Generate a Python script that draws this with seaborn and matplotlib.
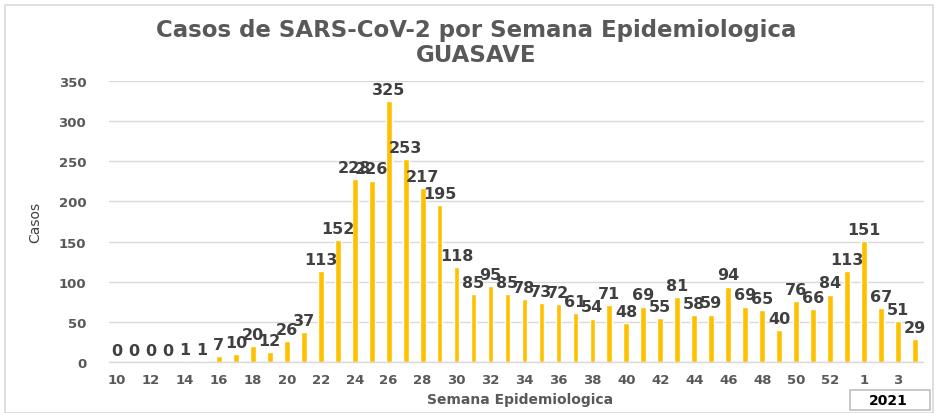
import matplotlib
matplotlib.use("Agg")
import matplotlib.pyplot as plt
import seaborn as sns
import pandas as pd
from matplotlib.patches import Rectangle

# Epidemiological weeks 10-53 (2020) followed by weeks 1-4 (2021)
semanas = [str(w) for w in range(10, 54)] + ["1", "2", "3", "4"]
casos = [0, 0, 0, 0, 1, 1, 7, 10, 20, 12, 26, 37,
         113, 152, 228, 226, 325, 253, 217, 195,
         118, 85, 95, 85, 78, 73, 72, 61, 54, 71,
         48, 69, 55, 81, 58, 59, 94, 69, 65, 40,
         76, 66, 84, 113, 151, 67, 51, 29]
y_ticks = [0, 50, 100, 150, 200, 250, 300, 350]

sns.set_style("white")
plt.rcParams["font.family"] = ["DejaVu Sans"]

df = pd.DataFrame({"semana": semanas, "casos": casos})

fig = plt.figure(figsize=(9.38, 4.14), dpi=100)
ax = fig.add_axes([108.5 / 938, 1 - 363 / 414, (923.5 - 108.5) / 938, (363 - 82) / 414])

sns.barplot(data=df, x="semana", y="casos", color="#FFC000", saturation=1,
            width=0.34, ax=ax, order=semanas)

ax.set_xlim(-0.5, len(semanas) - 0.5)
ax.set_ylim(0, 350)
ax.set_yticks(y_ticks)
ax.set_yticklabels([str(t) for t in y_ticks], fontsize=9.5, fontweight="bold", color="#595959")
ax.set_xticks(range(0, len(semanas), 2))
ax.set_xticklabels(semanas[::2], fontsize=9.5, fontweight="bold", color="#595959")
ax.tick_params(axis="both", length=0)
ax.tick_params(axis="y", pad=16)
ax.tick_params(axis="x", pad=8)

ax.grid(axis="y", color="#D9D9D9", linewidth=1)
ax.set_axisbelow(True)
for side in ["top", "right", "left"]:
    ax.spines[side].set_visible(False)
ax.spines["bottom"].set_color("#D9D9D9")
ax.spines["bottom"].set_linewidth(1)

# value labels above each bar
for i, v in enumerate(casos):
    ax.annotate(str(v), (i, v), xytext=(0, 3), textcoords="offset points",
                ha="center", va="bottom", fontsize=11.5, fontweight="bold",
                color="#404040")

ax.set_xlabel("Semana Epidemiologica", fontsize=10, fontweight="bold",
              color="#595959", labelpad=4)
ax.set_ylabel("Casos", fontsize=10, color="#404040", family="Liberation Sans Narrow",
              labelpad=12)
ax.xaxis.set_label_coords((520 - 108.5) / 815, -0.105)

title_x = 0.5 * (129 + 823) / 938
fig.text(title_x, 1 - 30 / 414,
         "Casos de SARS-CoV-2 por Semana Epidemiologica",
         ha="center", va="center", fontsize=16.5, fontweight="bold", color="#595959")
fig.text(title_x, 1 - 55.5 / 414, "GUASAVE",
         ha="center", va="center", fontsize=16.5, fontweight="bold", color="#595959")

# outer chart frame
fig.patches.append(Rectangle((5 / 938, 0), 928 / 938, 1 - 6 / 414,
                             transform=fig.transFigure, fill=False,
                             edgecolor="#D9D9D9", linewidth=1.2))

# year marker box
fig.patches.append(Rectangle((850 / 938, 1 - 411 / 414), 80 / 938, 20 / 414,
                             transform=fig.transFigure, fill=True, facecolor="white",
                             edgecolor="#BFBFBF", linewidth=1.2))
fig.text(888 / 938, 1 - 401 / 414, "2021", ha="center", va="center",
         fontsize=10, fontweight="bold", color="black")

fig.savefig("out.png", dpi=100)
